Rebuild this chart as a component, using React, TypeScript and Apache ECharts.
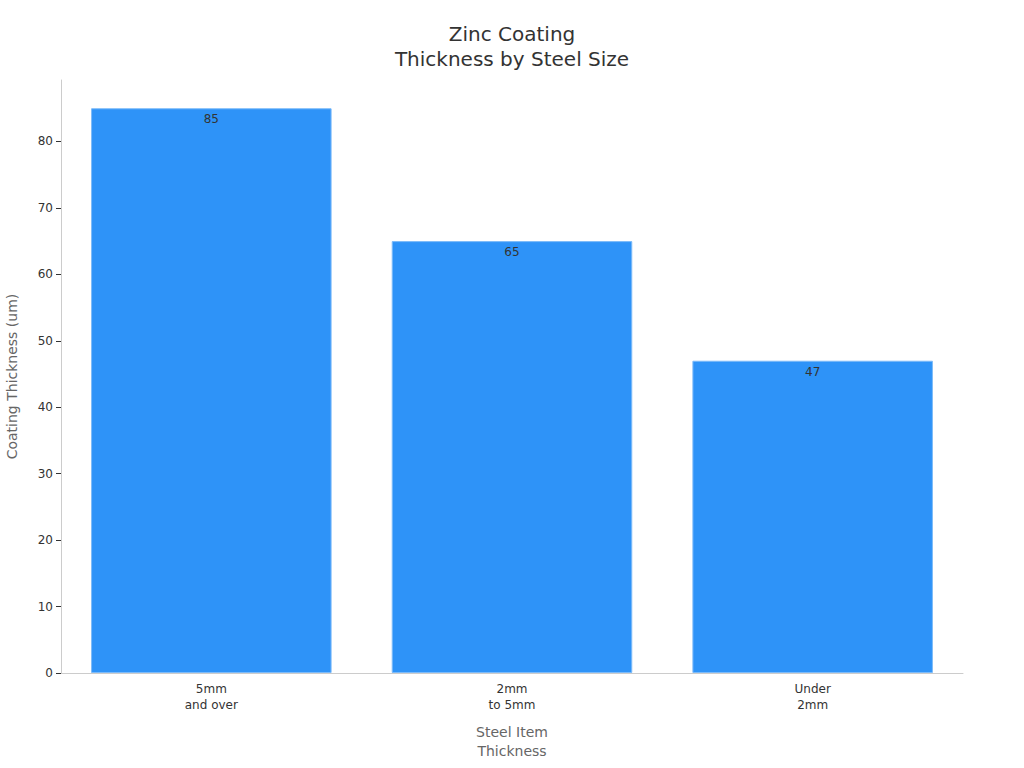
import { useEffect, useRef } from 'react';
import * as echarts from 'echarts';

const categories = ['5mm\nand over', '2mm\nto 5mm', 'Under\n2mm'];
const thickness = [85, 65, 47];
const yTicks = [0, 10, 20, 30, 40, 50, 60, 70, 80];

const FONT = 'DejaVu Sans';

const App = () => {
  const chartDom = useRef<HTMLDivElement | null>(null);

  useEffect(() => {
    document.body.style.margin = '0';
    if (!chartDom.current) return;
    const myChart = echarts.init(chartDom.current, null, { renderer: 'svg' });
    const option = {
      animation: false,
      textStyle: { fontFamily: FONT },
      title: {
        text: 'Zinc Coating\nThickness by Steel Size',
        left: 'center',
        top: 16,
        textStyle: {
          fontFamily: FONT,
          fontSize: 20,
          fontWeight: 'normal',
          color: '#333',
          lineHeight: 25
        }
      },
      grid: { left: 61, right: 61, top: 80, bottom: 95, outerBoundsMode: 'none', containLabel: false },
      xAxis: {
        type: 'category',
        data: categories,
        name: 'Steel Item\nThickness',
        nameLocation: 'middle',
        nameGap: 49,
        nameTextStyle: { fontFamily: FONT, fontSize: 14, color: '#666', lineHeight: 19 },
        axisLine: { lineStyle: { color: '#ccc' } },
        axisTick: { alignWithLabel: true, length: 5, lineStyle: { color: '#333' } },
        axisLabel: { fontFamily: FONT, fontSize: 12, color: '#333', lineHeight: 16, margin: 8 }
      },
      yAxis: {
        type: 'value',
        min: 0,
        max: (v: { max: number }) => v.max * 1.05,
        name: 'Coating Thickness (um)',
        nameLocation: 'middle',
        nameGap: 42,
        nameTextStyle: { fontFamily: FONT, fontSize: 14, color: '#666' },
        axisLine: { show: true, lineStyle: { color: '#ccc' } },
        axisTick: { show: true, length: 5, customValues: yTicks, lineStyle: { color: '#333' } },
        axisLabel: { fontFamily: FONT, fontSize: 12, color: '#333', margin: 8, customValues: yTicks },
        splitLine: { show: false }
      },
      series: [
        {
          type: 'bar',
          data: thickness,
          barWidth: '80%',
          itemStyle: { color: '#2E93F8', borderColor: '#7DBBF9', borderWidth: 1 },
          label: {
            show: true,
            position: 'insideTop',
            fontFamily: FONT,
            fontSize: 12,
            color: '#333'
          }
        }
      ]
    };
    myChart.setOption(option);
    return () => {
      myChart.dispose();
    };
  }, []);

  return <div ref={chartDom} style={{ width: 1024, height: 768 }} />;
};

export default App;
